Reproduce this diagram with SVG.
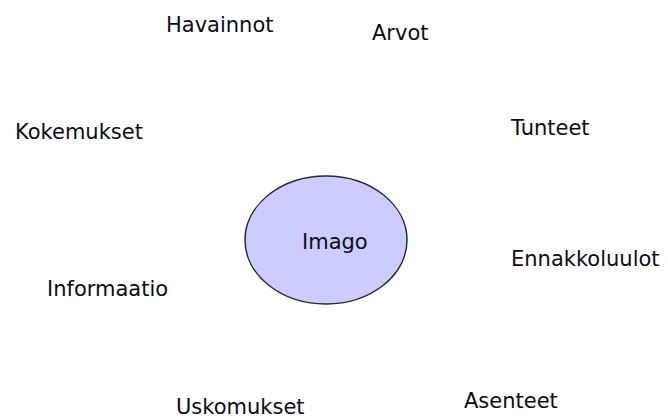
<svg xmlns="http://www.w3.org/2000/svg" width="668" height="420" viewBox="0 0 668 420">
  <style>
    .lbl { font-family: "DejaVu Sans", Verdana, sans-serif; font-size: 21px; fill: #0c0c18; }
    .core { fill: #ccccff; stroke: #2a2a2a; stroke-width: 1.5; }
  </style>
  <rect width="668" height="420" fill="#ffffff"/>
  <g id="connectors"></g>
  <g id="imago">
    <ellipse class="core" cx="326" cy="240" rx="81" ry="64"/>
    <text class="lbl" x="302" y="249">Imago</text>
  </g>
  <g id="havainnot"><text class="lbl" x="166" y="32">Havainnot</text></g>
  <g id="arvot"><text class="lbl" x="372" y="40">Arvot</text></g>
  <g id="kokemukset"><text class="lbl" x="15" y="139">Kokemukset</text></g>
  <g id="tunteet"><text class="lbl" x="511" y="135">Tunteet</text></g>
  <g id="ennakkoluulot"><text class="lbl" x="511" y="266">Ennakkoluulot</text></g>
  <g id="informaatio"><text class="lbl" x="47" y="296">Informaatio</text></g>
  <g id="uskomukset"><text class="lbl" x="176" y="414">Uskomukset</text></g>
  <g id="asenteet"><text class="lbl" x="464" y="408">Asenteet</text></g>
</svg>
